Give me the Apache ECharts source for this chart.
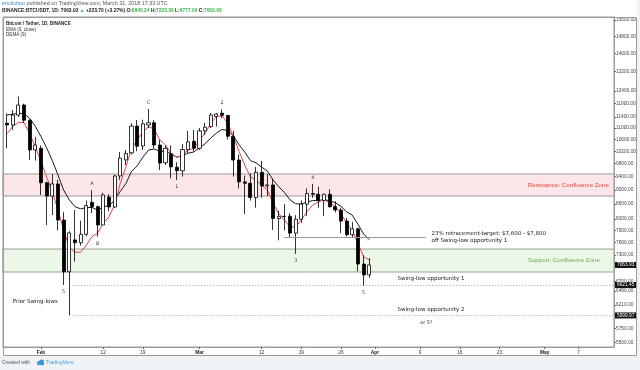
<!DOCTYPE html>
<html><head><meta charset="utf-8">
<script src="https://cdn.jsdelivr.net/npm/echarts@6/dist/echarts.min.js"></script>
<style>html,body{margin:0;padding:0;background:#fff}#c{width:640px;height:370px}</style>
</head><body><div id="c"></div>
<script>
const dates = ['2018-01-26','2018-01-27','2018-01-28','2018-01-29','2018-01-30','2018-01-31',
'2018-02-01','2018-02-02','2018-02-03','2018-02-04','2018-02-05','2018-02-06','2018-02-07','2018-02-08','2018-02-09','2018-02-10',
'2018-02-11','2018-02-12','2018-02-13','2018-02-14','2018-02-15','2018-02-16','2018-02-17','2018-02-18','2018-02-19','2018-02-20',
'2018-02-21','2018-02-22','2018-02-23','2018-02-24','2018-02-25','2018-02-26','2018-02-27','2018-02-28',
'2018-03-01','2018-03-02','2018-03-03','2018-03-04','2018-03-05','2018-03-06','2018-03-07','2018-03-08','2018-03-09','2018-03-10',
'2018-03-11','2018-03-12','2018-03-13','2018-03-14','2018-03-15','2018-03-16','2018-03-17','2018-03-18','2018-03-19','2018-03-20',
'2018-03-21','2018-03-22','2018-03-23','2018-03-24','2018-03-25','2018-03-26','2018-03-27','2018-03-28','2018-03-29','2018-03-30','2018-03-31'];
const opens = [11170,11110,11470,11850,11280,10245,
10300,9215,8828,9180,8169,6910,7660,7590,7800,8650,8530,8038,8800,8520,9420,9920,10150,11070,10380,11110,11190,10411,9830,10120,9690,9580,10260,10540,
10300,10900,11050,11420,11540,11455,10710,9918,9240,9200,8786,9530,9120,9150,8210,8260,8270,7830,8190,8600,8900,8880,8700,8880,8530,8440,8140,7790,7940,7085,6840.24];
const highs = [11530,11660,12180,11900,11300,10690,
10400,9250,9480,9300,8380,7880,8437,8150,8700,9000,8560,8920,8880,9460,10180,10250,11170,11288,11300,11700,11288,10580,10400,10400,9850,10450,10900,10930,
11000,11190,11550,11550,11690,11480,10900,10100,9430,9500,9700,9890,9480,9340,8420,8600,8350,8300,8700,9050,9180,9100,8900,9020,8680,8500,8220,8120,7970,7290,7223.36];
const lows = [10300,10930,11400,11180,9918,9900,
8857,8038,8300,7900,6621.45,5999.97,7140,7520,7750,8356,7740,8030,8400,8500,9300,9760,10100,10200,10250,11000,10300,9600,9760,9350,9297,9400,10150,10200,
10250,10750,11000,11050,11360,10600,9400,9050,8330,8700,8500,8780,8820,7910,7650,7900,7720,7322,8100,8280,8780,8500,8270,8500,8370,7830,7750,7730,6920,6600,6777];
const closes = [11110,11470,11850,11280,10245,10411,
9215,8828,9180,8169,6910,7835,7590,7800,8560,8530,8038,8857,8520,9420,9980,10130,11070,10370,11150,11190,10411,9820,10300,9700,9580,10260,10520,10300,
10900,11030,11470,11510,11460,10710,9918,9240,9200,8786,9530,9120,9150,8210,8260,8270,7830,8190,8600,8900,8880,8700,8880,8530,8440,8140,7790,7940,7085,6840,7063.93];
const ema9 = [11473,11500,11540,11520,11350,11060,
10700,10320,9900,9450,9000,8720,8530,8470,8500,8510,8430,8520,8560,8700,8960,9190,9560,9730,10010,10240,10280,10200,10200,10120,10010,10060,10140,10180,
10320,10450,10650,10820,10950,10910,10720,10420,10180,9900,9830,9690,9570,9300,9100,8930,8720,8610,8600,8660,8700,8700,8730,8690,8640,8540,8390,8300,8060,7810,7665];
const dema9 = [10800,11050,11200,11200,10810,10360,
9870,9390,8950,8437,7909,7480,7360,7360,7534,7740,7830,8080,8250,8575,9195,9700,10300,10580,10860,11050,10960,10580,10411,10130,10000,10080,10245,10300,
10580,10810,11170,11410,11436,11170,10700,10190,9760,9390,9297,9147,9001,8630,8340,8169,7990,7990,8169,8390,8575,8665,8715,8640,8530,8340,8080,7909,7575,7255,7178];

const yTicks = [15600,14800,14000,13200,12400,11900,11400,11000,10600,10200,9800,9400,9000,8600,8200,7900,7600,7300,6700,6490,6210,5750,5500];
const xTickDates = ['2018-02-01','2018-02-12','2018-02-19','2018-03-01','2018-03-12','2018-03-19','2018-03-26','2018-04-01','2018-04-09','2018-04-16','2018-04-23','2018-05-01','2018-05-07'];
const xTickLabels = ['Feb','12','19','Mar','12','19','26','Apr','9','16','23','May','7'];
const monthLabels = ['Feb','Mar','Apr','May'];

const resistanceZone = [9480, 8828];
const supportZone = [7437, 6905];
const swingLow1 = 6621.45;
const swingLow2 = 5999.97;
const lastClose = 7063.93;
const swingLineStart = '2018-02-06';
const retraceLevel = 7730;
const retraceFrom = '2018-03-16', retraceTo = '2018-04-10';

// wave labels: [date, anchor, text]
const waveLabels = [['2018-02-10','high','A'],['2018-02-11','low','B'],['2018-02-20','high','C'],['2018-02-25','low','1'],
['2018-03-05','high','2'],['2018-03-18','low','3'],['2018-03-21','high','4'],['2018-02-05','low','5'],['2018-03-30','low','5']];
// notes: [date, price, text]
const notes = [['2018-01-27',6270,'Prior Swing-lows'],['2018-04-05',6750,'Swing-low opportunity 1'],
['2018-04-05',6107,'Swing-low opportunity 2'],['2018-04-09',5855,'or 5?'],
['2018-04-11',retraceLevel,'23% retracement-target: $7,600 - $7,800\noff Swing-low opportunity 1']];
// zone captions: [date, price, text, kind]
const zoneNotes = [['2018-04-28',9150,'Resistance: Confluence Zone','r'],['2018-04-28',7170,'Support: Confluence Zone','s']];

const DAY = 86400000;
const ts = s => { const p = s.split('-').map(Number); return Date.UTC(p[0], p[1]-1, p[2]); };
const xMin = ts('2018-02-01') - 6.71*DAY;
const xMax = ts('2018-02-01') + 101.24*DAY;
const yMin = 5418, yMax = 15750;

const candleData = dates.map((d,i)=>[ts(d), opens[i], closes[i], lows[i], highs[i]]);
const emaData = dates.map((d,i)=>[ts(d), ema9[i]]);
const demaData = dates.map((d,i)=>[ts(d), dema9[i]]);
const xTickTs = xTickDates.map(ts);

const AX = '#9b9b9b';
const FONT = '"Liberation Sans", Arial, sans-serif';
const NFONT = '"DejaVu Sans", Verdana, sans-serif';

const chart = echarts.init(document.getElementById('c'), null, {renderer:'canvas'});
const blackBox = v => ({show:true, position:'end', distance:1, formatter: v.toFixed(2), color:'#fff', backgroundColor:'#111',
  padding:[1,2,0,2], fontSize:4.8, fontFamily:FONT});

chart.setOption({
  animation:false,
  backgroundColor:'#fff',
  grid:{left:3, right:26, top:17, bottom:23, show:true, borderColor:AX, borderWidth:1, backgroundColor:'#fff', containLabel:false, outerBoundsMode:'none'},
  xAxis:{type:'value', min:xMin, max:xMax, scale:true,
    axisLine:{show:true, lineStyle:{color:AX, width:1}},
    axisTick:{show:true, customValues:xTickTs, length:2, lineStyle:{color:'#666'}},
    splitLine:{show:false},
    axisLabel:{customValues:xTickTs, margin:3, fontSize:4.8, color:'#333', fontFamily:FONT,
      formatter:v=>{ const i = xTickTs.indexOf(v); const t = i>=0 ? xTickLabels[i] : ''; return monthLabels.includes(t) ? '{m|'+t+'}' : t; },
      rich:{m:{fontWeight:'bold', fontSize:4.8, color:'#222', fontFamily:FONT}}}
  },
  yAxis:{type:'log', logBase:10, position:'right', min:yMin, max:yMax,
    axisLine:{show:true, lineStyle:{color:AX, width:1}},
    axisTick:{show:true, customValues:yTicks, length:2, lineStyle:{color:'#666'}},
    splitLine:{show:false},
    axisLabel:{customValues:yTicks, margin:2, fontSize:4.8, color:'#444', fontFamily:FONT, formatter:v=>Number(v).toFixed(2)}
  },
  series:[
    {type:'candlestick', name:'BTCUSDT', data:candleData, barWidth:3.6, z:3,
      itemStyle:{color:'#ffffff', color0:'#000000', borderColor:'#000000', borderColor0:'#000000', borderWidth:0.8},
      markPoint:{symbolSize:0, silent:true, data: waveLabels.map(w=>{ const i = dates.indexOf(w[0]); const hi = w[1]==='high';
        return {coord:[ts(w[0]), hi?highs[i]:lows[i]], label:{show:true, position:'inside', formatter:w[2], offset:[0, hi?-6:7],
          fontSize:4.8, color:'#333', fontFamily:NFONT}}; })}
    },
    {type:'line', name:'EMA (9, close)', data:emaData, symbol:'none', z:2, lineStyle:{color:'#1a1a1a', width:1},
      markArea:{silent:true, data:[
        [{yAxis:resistanceZone[0], itemStyle:{color:'#fde6e7', borderColor:AX, borderWidth:1}}, {yAxis:resistanceZone[1]}],
        [{yAxis:supportZone[0], itemStyle:{color:'#ebf8e7', borderColor:AX, borderWidth:1}}, {yAxis:supportZone[1]}]
      ]},
      markLine:{silent:true, symbol:['none','none'], data:[
        [{coord:[ts(swingLineStart), swingLow1], lineStyle:{color:'#888', type:[1,2], width:0.8}, label:blackBox(swingLow1)}, {coord:[xMax, swingLow1]}],
        [{coord:[ts(swingLineStart), swingLow2], lineStyle:{color:'#888', type:[1,2], width:0.8}, label:blackBox(swingLow2)}, {coord:[xMax, swingLow2]}],
        [{coord:[ts(dates[dates.length-1]), lastClose], lineStyle:{color:'rgba(0,0,0,0)', width:0}, label:blackBox(lastClose)}, {coord:[xMax, lastClose]}],
        [{coord:[ts(retraceFrom), retraceLevel], lineStyle:{color:'#999', type:'solid', width:1}, label:{show:false}}, {coord:[ts(retraceTo), retraceLevel]}]
      ]},
      markPoint:{symbolSize:0, silent:true, data: notes.map(n=>({coord:[ts(n[0]), n[1]],
        label:{show:true, position:'right', distance:0, formatter:n[2], fontSize:n[2]==='or 5?'?4.8:5.5, lineHeight:7, color:'#222', fontFamily:NFONT}}))
        .concat(zoneNotes.map(n=>({coord:[ts(n[0]), n[1]],
        label:{show:true, position:'right', distance:0, formatter:n[2], fontSize:6.2, color:n[3]==='r'?'#e8453c':'#6fa84b', fontFamily:FONT}})))}
    },
    {type:'line', name:'DEMA (9)', data:demaData, symbol:'none', z:2, lineStyle:{color:'#e5484d', width:1}}
  ],
  graphic:[
    {type:'rect', left:0, top:356, shape:{width:640, height:14}, style:{fill:'#f0f3f6'}, silent:true, z:-1},
    {type:'rect', left:637, top:0, shape:{width:3, height:370}, style:{fill:'#f0f3f6'}, silent:true, z:-1},
    {type:'rect', shape:{x:3.5, y:17.5, width:633, height:338}, style:{fill:'none', stroke:AX, lineWidth:1}, silent:true, z:10},
    {type:'text', left:2, top:1, style:{text:'{u|erickchoo} published on TradingView.com, March 31, 2018 17:33 UTC', font:'5.4px '+FONT, fill:'#555',
      rich:{u:{fill:'#3a8fd6', font:'5.4px '+FONT}}}},
    {type:'text', left:2, top:8, style:{text:'BINANCE:BTCUSDT, 1D: 7063.93 {g|▲} +223.70 (+3.27%) O:{g|6840.24} H:{g|7223.36} L:{g|6777.00} C:{g|7063.93}',
      font:'bold 4.9px '+FONT, fill:'#222', rich:{g:{fill:'#3cb44b', font:'bold 4.9px '+FONT}}}},
    {type:'text', left:6, top:21.5, style:{text:'Bitcoin / Tether, 1D, BINANCE', font:'bold 4.6px '+FONT, fill:'#222'}},
    {type:'text', left:6, top:26.8, style:{text:'EMA (9, close)', font:'4.6px '+FONT, fill:'#333'}},
    {type:'text', left:6, top:32, style:{text:'DEMA (9)', font:'4.6px '+FONT, fill:'#333'}},
    {type:'text', left:2, top:360, style:{text:'Created with', font:'5px '+FONT, fill:'#555'}},
    {type:'group', left:37, top:359.5, children:[
      {type:'circle', shape:{cx:2.5, cy:4, r:2}, style:{fill:'#3a9ad9'}},
      {type:'circle', shape:{cx:5, cy:3, r:2.6}, style:{fill:'#3a9ad9'}},
      {type:'rect', shape:{x:1, y:4, width:6.5, height:2}, style:{fill:'#3a9ad9'}}
    ]},
    {type:'text', left:46, top:360, style:{text:'TradingView', font:'5px '+FONT, fill:'#49a3e0'}}
  ]
});
</script></body></html>
